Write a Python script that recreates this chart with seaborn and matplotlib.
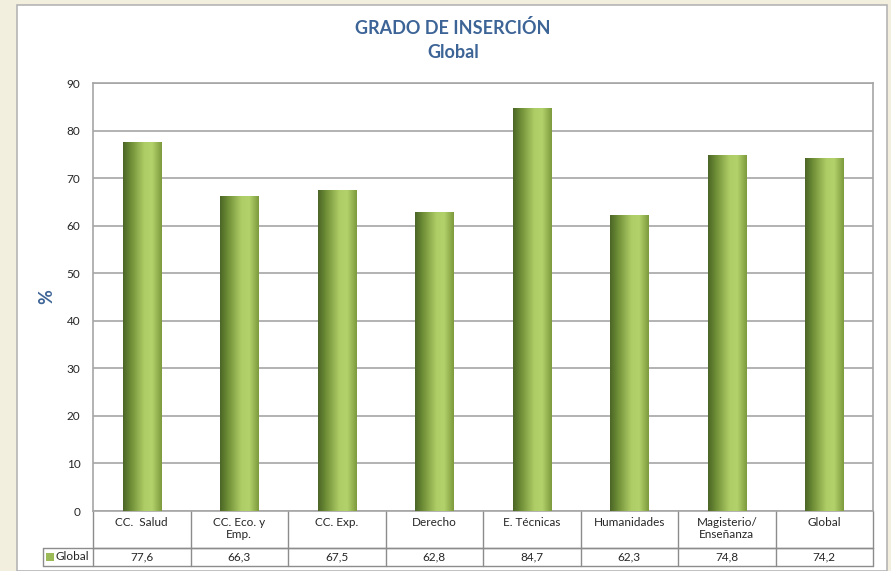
import matplotlib
matplotlib.use("Agg")
import matplotlib.pyplot as plt
from matplotlib.colors import LinearSegmentedColormap
from matplotlib.patches import Rectangle
import numpy as np
import pandas as pd
import seaborn as sns

# data
categories = ["CC.  Salud", "CC. Eco. y\nEmp.", "CC. Exp.", "Derecho", "E. Técnicas",
              "Humanidades", "Magisterio/\nEnseñanza", "Global"]
values = [77.6, 66.3, 67.5, 62.8, 84.7, 62.3, 74.8, 74.2]
value_labels = ["77,6", "66,3", "67,5", "62,8", "84,7", "62,3", "74,8", "74,2"]
series_name = "Global"
yticks = [0, 10, 20, 30, 40, 50, 60, 70, 80, 90]

df = pd.DataFrame({"cat": categories, "val": values})

sns.set_style("white")
plt.rcParams["font.family"] = ["Lato", "DejaVu Sans"]

BLUE = "#3d6496"
GRID = "#a6a6a6"
TEXT = "#262626"

fig = plt.figure(figsize=(8.91, 5.71), dpi=100)
fig.patch.set_facecolor("#f3efdf")
# white chart frame
frame = Rectangle((17 / 891, 0), 870 / 891, 1 - 5 / 571, transform=fig.transFigure,
                  facecolor="white", edgecolor="#b5b5b5", linewidth=1.2, zorder=-10)
fig.patches.append(frame)

ax = fig.add_axes([93 / 891, 1 - 511 / 571, 780 / 891, 428 / 571])
ax.set_zorder(5)
sns.barplot(data=df, x="cat", y="val", color="#9dbb55", width=0.39, ax=ax, zorder=3)

# cylinder-like gradient on the bars
cmap = LinearSegmentedColormap.from_list(
    "cyl", [(0.0, "#4a6526"), (0.2, "#6e8d36"), (0.55, "#afcd66"), (0.75, "#b3d26c"), (1.0, "#7c9a3c")])
grad = np.linspace(0, 1, 256).reshape(1, -1)
for p in list(ax.patches):
    x0, y0 = p.get_x(), p.get_y()
    w, h = p.get_width(), p.get_height()
    im = ax.imshow(grad, extent=[x0, x0 + w, y0, y0 + h], aspect="auto", cmap=cmap,
                   zorder=4, interpolation="bicubic")
    im.set_clip_path(p)
    p.set_edgecolor("#d8e6b8")
    p.set_linewidth(0.6)

ax.set_xlim(-0.5, len(categories) - 0.5)
ax.set_ylim(0, 90)
ax.set_yticks(yticks)
ax.yaxis.grid(True, color=GRID, linewidth=1.2, zorder=0)
ax.set_axisbelow(True)
ax.tick_params(axis="y", length=0, pad=9, labelsize=8.5, labelcolor=TEXT)
ax.set_xticks([])
ax.set_xlabel("")
ax.set_ylabel("%", color=BLUE, fontsize=13, fontweight="bold")
ax.yaxis.set_label_coords(-0.049, 0.5)
for s in ax.spines.values():
    s.set_color(GRID)
    s.set_linewidth(1.2)

# title, centred on the chart frame
fig.text(453 / 891, 1 - 28 / 571, "GRADO DE INSERCIÓN", color=BLUE, fontsize=13,
         fontweight="bold", ha="center", va="center")
fig.text(453 / 891, 1 - 52 / 571, "Global", color=BLUE, fontsize=13,
         fontweight="bold", ha="center", va="center")

# data table under the axis
n = len(categories)
hdr = -37 / 428
row = -55 / 428
left_cell = -0.5 - 50 / 97.5
tr = ax.get_xaxis_transform()
lk = dict(color="#8c8c8c", linewidth=1.0, clip_on=False, transform=tr)
ax.plot([-0.5, n - 0.5], [hdr, hdr], **lk)
ax.plot([left_cell, n - 0.5], [hdr, hdr], **lk)
ax.plot([left_cell, n - 0.5], [row, row], **lk)
ax.plot([left_cell, left_cell], [hdr, row], **lk)
for i in range(n + 1):
    ax.plot([i - 0.5, i - 0.5], [0, row], **lk)
for i, (c, v) in enumerate(zip(categories, value_labels)):
    ax.text(i, -6 / 428, c, transform=tr, ha="center", va="top", fontsize=8.5, color=TEXT,
            linespacing=1.15, clip_on=False)
    ax.text(i, (hdr + row) / 2, v, transform=tr, ha="center", va="center", fontsize=8.5,
            color=TEXT, clip_on=False)
ax.add_patch(Rectangle((left_cell + 0.03, hdr - 13 / 428), 0.08, 8 / 428, transform=tr,
                       facecolor="#9bbb59", edgecolor="none", clip_on=False))
ax.text(left_cell + 0.13, (hdr + row) / 2, series_name, transform=tr, ha="left", va="center",
        fontsize=8.5, color=TEXT, clip_on=False)

fig.savefig("out.png", dpi=100, facecolor=fig.get_facecolor())
